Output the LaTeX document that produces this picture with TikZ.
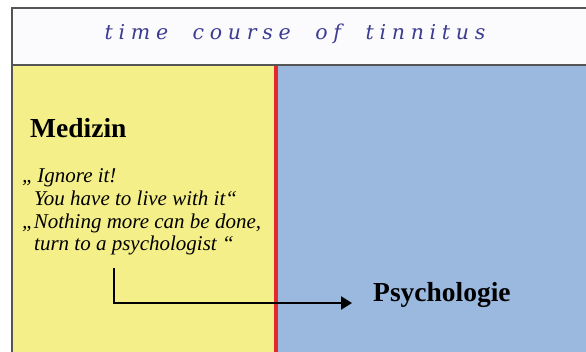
\documentclass[tikz,border=0pt]{standalone}
\usepackage{fontspec}
\setmainfont{Liberation Serif}
\newfontfamily\titlefont[LetterSpace=28,WordSpace=2.0]{DejaVu Serif}
\usetikzlibrary{arrows.meta}
\definecolor{yellowbg}{HTML}{F4EF88}
\definecolor{bluebg}{HTML}{9BB9DF}
\definecolor{redline}{HTML}{E0282E}
\definecolor{bordergray}{HTML}{555555}
\definecolor{titleblue}{HTML}{3C3C90}
\definecolor{headerbg}{HTML}{FBFBFD}
\tikzset{
  quote/.style={anchor=base west, inner sep=0pt, font=\fontsize{21}{22}\selectfont\itshape},
  heading/.style={anchor=base west, inner sep=0pt, font=\fontsize{27.5}{30}\selectfont\bfseries},
  flow/.style={line width=2.4pt, -{Triangle[length=11pt,width=13pt]}}
}
\begin{document}
\begin{tikzpicture}[x=1pt,y=-1pt]
\useasboundingbox (0,0) rectangle (586,352);
\fill[white] (0,0) rectangle (586,352);
% panels
\fill[headerbg] (12,8) rectangle (586,65);
\fill[yellowbg] (12,65) rectangle (275,352);
\fill[bluebg] (275,65) rectangle (586,352);
\fill[redline] (273.5,66) rectangle (277.5,352);
% borders
\draw[bordergray, line width=2pt] (12,352) -- (12,8) -- (586,8);
\draw[bordergray, line width=2pt] (12,65) -- (586,65);
% title
\node[inner sep=0pt, anchor=base, text=titleblue, font=\fontsize{20.5}{22}\selectfont\titlefont\itshape] (title) at (295,40) {time course of tinnitus};
% texts
\node[heading] (med) at (30,138) {Medizin};
\node[quote] (q1) at (22,183) {„\,Ignore it!};
\node[quote] (q2) at (34,206) {You have to live with it“};
\node[quote] (q3) at (22,229) {„Nothing more can be done,};
\node[quote] (q4) at (34,251) {turn to a psychologist “};
\node[heading] (psy) at (373,302) {Psychologie};
% arrow
\coordinate (start) at (114,268);
\coordinate (corner) at (114,303);
\coordinate (tip) at (352,303);
\draw[flow] (start) -- (corner) -- (tip);
\end{tikzpicture}
\end{document}
